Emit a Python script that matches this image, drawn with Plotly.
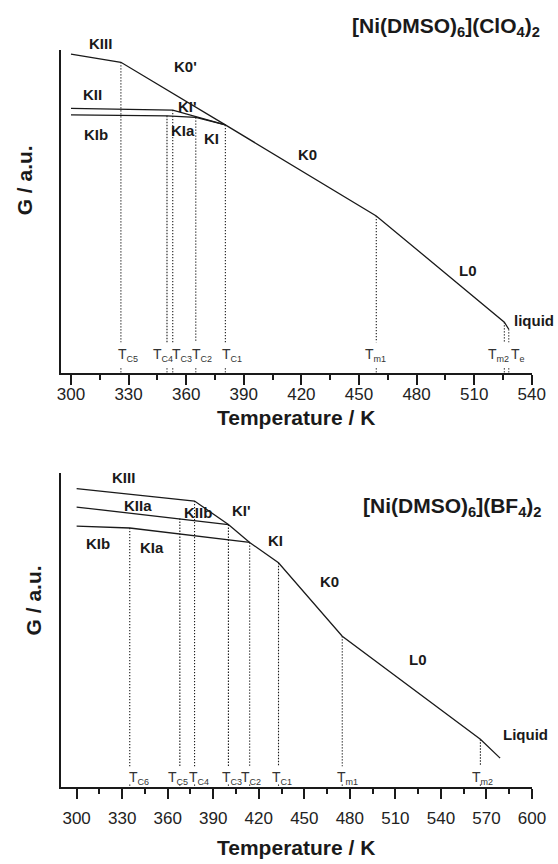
import plotly.graph_objects as go

# ---------------- data: [Ni(DMSO)6](ClO4)2 (top panel) ----------------
top_main_T = [300, 326, 380.4, 459, 525.7, 528]          # KIII -> K0' -> K0 -> L0 -> liquid
top_main_G = [98.7, 96.2, 76.8, 48.6, 15.7, 13.5]
top_KII_T = [300, 353, 380.4]                            # KII -> KI'
top_KII_G = [81.9, 81.4, 76.8]
top_KIb_T = [300, 350, 365, 380.4]                       # KIb -> KIa -> KI
top_KIb_G = [79.9, 79.6, 79.1, 76.8]
top_trans_names = ["C5", "C4", "C3", "C2", "C1", "m1", "m2", "e"]
top_trans_T = [326, 350, 353, 365, 380.4, 459, 525.7, 528]
top_trans_G = [96.2, 79.6, 81.4, 79.1, 76.8, 48.6, 15.7, 13.5]

# ---------------- data: [Ni(DMSO)6](BF4)2 (bottom panel) ----------------
bot_main_T = [300, 377.7, 400, 414, 433, 475, 566, 579]  # KIII -> KIIb -> KI' -> KI -> K0 -> L0 -> Liquid
bot_main_G = [95.2, 91.2, 83.7, 78.0, 71.5, 48.1, 15.2, 9.2]
bot_KIIa_T = [300, 368, 400]
bot_KIIa_G = [89.3, 85.6, 83.7]
bot_KIb_T = [300, 335, 414]                              # KIb -> KIa
bot_KIb_G = [83.2, 82.6, 78.0]
bot_trans_names = ["C6", "C5", "C4", "C3", "C2", "C1", "m1", "m2"]
bot_trans_T = [335, 368, 377.7, 400, 414, 433, 475, 566]
bot_trans_G = [82.6, 85.6, 91.2, 83.7, 78.0, 71.5, 48.1, 15.2]

x_ticks_top = [300, 330, 360, 390, 420, 450, 480, 510, 540]
x_ticks_bot = [300, 330, 360, 390, 420, 450, 480, 510, 540, 570, 600]

FONT = "Liberation Sans, Arial, sans-serif"
INK = "#1a1a1a"

# page geometry (pixels)
W, H, TOP, BOT, L, R = 558, 864, 50, 77.3, 61, 22
ph = H - TOP - BOT
pw = W - L - R
def py(v):
    return (H - BOT - v) / ph
def px(v):
    return (v - L) / pw

fig = go.Figure()

def curve(T, G, xa, ya):
    fig.add_trace(go.Scatter(x=T, y=G, mode="lines", xaxis=xa, yaxis=ya,
                             line=dict(color=INK, width=1.3), hoverinfo="skip",
                             showlegend=False))

def drops(T, G, gap_top, gap_bot, xa, ya):
    # dotted drop line from the curve to the axis, interrupted where the label sits
    for t, g in zip(T, G):
        xs = [t, t, None, t, t]
        ys = [g, gap_top, None, gap_bot, 0]
        fig.add_trace(go.Scatter(x=xs, y=ys, mode="lines", xaxis=xa, yaxis=ya,
                                 line=dict(color=INK, width=1.1, dash="1.3px,1.7px"),
                                 hoverinfo="skip", showlegend=False, connectgaps=False))

curve(top_main_T, top_main_G, "x", "y")
curve(top_KII_T, top_KII_G, "x", "y")
curve(top_KIb_T, top_KIb_G, "x", "y")
drops(top_trans_T, top_trans_G, 9.5, 1.4, "x", "y")

curve(bot_main_T, bot_main_G, "x2", "y2")
curve(bot_KIIa_T, bot_KIIa_G, "x2", "y2")
curve(bot_KIb_T, bot_KIb_G, "x2", "y2")
drops(bot_trans_T, bot_trans_G, 6.6, 0.8, "x2", "y2")

ann = []

def phase(text, x, y, xa, ya, size=15, xanchor="center"):
    ann.append(dict(text=text, x=x, y=y, xref=xa, yref=ya, showarrow=False,
                    xanchor=xanchor, yanchor="middle",
                    font=dict(family=FONT, size=size, color=INK, weight="bold")))

def phase_px(text, x, y, size=15, xanchor="center"):
    phase(text, px(x), py(y), "paper", "paper", size=size, xanchor=xanchor)

# top phase labels
phase_px("KIII", 100.7, 43.3)
phase("K0'", 359.8, 94.8, "x", "y")
phase("KII", 311.0, 86.3, "x", "y")
phase("KI'", 360.6, 82.6, "x", "y")
phase("KIb", 312.8, 73.7, "x", "y")
phase("KIa", 358.5, 75.2, "x", "y")
phase("KI", 373.0, 72.6, "x", "y")
phase("K0", 423.1, 67.5, "x", "y")
phase("L0", 506.6, 31.8, "x", "y")
phase("liquid", 529.9, 16.3, "x", "y", xanchor="left")
phase_px("[Ni(DMSO)<sub>6</sub>](ClO<sub>4</sub>)<sub>2</sub>", 546, 27, size=21, xanchor="right")

# bottom phase labels
phase("KIII", 330.9, 98.7, "x2", "y2")
phase("KIIa", 340.7, 89.9, "x2", "y2")
phase("KIIb", 379.9, 87.4, "x2", "y2")
phase("KI'", 408.9, 88.1, "x2", "y2")
phase("KIb", 314.1, 77.7, "x2", "y2")
phase("KIa", 349.7, 76.3, "x2", "y2")
phase("KI", 430.7, 78.7, "x2", "y2")
phase("K0", 466.7, 65.4, "x2", "y2")
phase("L0", 524.9, 40.6, "x2", "y2")
phase("Liquid", 595.4, 16.6, "x2", "y2")
phase_px("[Ni(DMSO)<sub>6</sub>](BF<sub>4</sub>)<sub>2</sub>", 547, 507, size=21, xanchor="right")

# transition temperature labels; shift = pixel offset of the label's left edge from its line
def tlabels(names, temps, shifts, ypos, xa, ya):
    for n, t, s in zip(names, temps, shifts):
        ann.append(dict(text="T<sub><span style='font-size:9px'>%s</span></sub>" % n,
                        x=t, y=ypos, xref=xa, yref=ya,
                        showarrow=False, yanchor="middle", xanchor="left", xshift=s,
                        borderpad=0,
                        font=dict(family=FONT, size=14, color="#333333")))

tlabels(top_trans_names, top_trans_T, [-4, -15, -2, -5, -4, -12.5, -17, 1],
        5.6, "x", "y")
tlabels(bot_trans_names, bot_trans_T, [-2, -12.5, -6.5, -7.5, -10, -8, -6.5, -9],
        3.0, "x2", "y2")

# axis titles
for yy in [417, 847]:
    ann.append(dict(text="Temperature / K", x=px(298), y=py(yy), xref="paper", yref="paper",
                    showarrow=False, xanchor="center", yanchor="middle",
                    font=dict(family=FONT, size=21, color=INK, weight="bold")))
for (xx, yy) in [(24, 180), (33, 600)]:
    ann.append(dict(text="G / a.u.", x=px(xx), y=py(yy), xref="paper", yref="paper",
                    showarrow=False, xanchor="center", yanchor="middle", textangle=-90,
                    font=dict(family=FONT, size=21, color=INK, weight="bold")))

xcommon = dict(showline=True, linecolor=INK, linewidth=2, ticks="outside", ticklen=10,
               tickwidth=2, tickcolor=INK, showgrid=False, zeroline=False,
               tickfont=dict(family=FONT, size=17, color="#222222"),
               minor=dict(ticks="outside", ticklen=5, tickwidth=1.5, tickcolor=INK, dtick=15,
                          tick0=300, showgrid=False))
ycommon = dict(showline=True, linecolor=INK, linewidth=2, ticks="", showticklabels=False,
               showgrid=False, zeroline=False, range=[0, 100])

fig.update_layout(
    width=W, height=H, autosize=False,
    margin=dict(l=L, r=R, t=TOP, b=BOT, pad=0),
    paper_bgcolor="white", plot_bgcolor="white",
    showlegend=False,
    xaxis=dict(xcommon, range=[294.8, 540.1], tickvals=x_ticks_top, anchor="y",
               ticklabelstandoff=-5),
    yaxis=dict(ycommon, domain=[py(372.7), 1.0], anchor="x"),
    xaxis2=dict(xcommon, range=[289.7, 600], tickvals=x_ticks_bot, anchor="y2",
                ticklabelstandoff=5),
    yaxis2=dict(ycommon, domain=[0, py(473.3)], anchor="x2"),
    annotations=ann,
)

fig.write_html("out.html")
